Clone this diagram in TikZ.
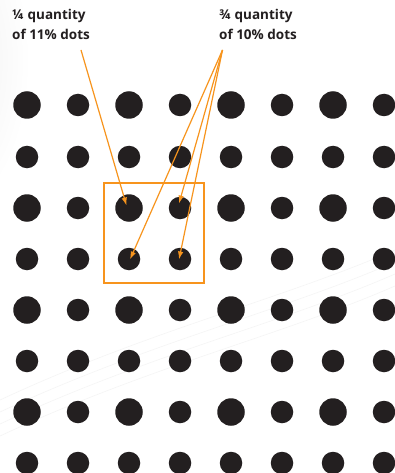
\documentclass[tikz,border=0pt]{standalone}
\usepackage{fontspec}
\setmainfont{Open Sans}
\usetikzlibrary{arrows.meta}
\definecolor{dotc}{HTML}{231F20}
\definecolor{orng}{HTML}{F7941D}
\begin{document}
\begin{tikzpicture}[x=1pt,y=-1pt,
  big/.style={circle,fill=dotc,inner sep=0pt,minimum size=27.5pt},
  small/.style={circle,fill=dotc,inner sep=0pt,minimum size=22.5pt},
  lbl/.style={font=\bfseries\fontsize{13.5}{20}\selectfont,align=left,anchor=north west,inner sep=0pt,text=dotc},
  arr/.style={draw=orng,line width=1.2pt,-{Latex[length=8pt,width=5.5pt]}}]
\useasboundingbox (0,0) rectangle (395,473);
\fill[white] (0,0) rectangle (395,473);
\shade[inner color=black!7,outer color=white] (-60,60) ellipse (90 and 160);
\foreach \y in {360,372,384,396}{
  \draw[black!4,line width=0.6pt] (0,\y+40) .. controls (150,\y-30) and (280,\y-60) .. (395,\y-110);}
% dots
\foreach \r/\y in {1/105,2/157,3/208,4/259,5/310,6/361,7/412,8/463}{
  \foreach \c/\x in {1/27,2/78,3/129,4/180,5/231,6/282,7/333,8/384}{
    \pgfmathtruncatemacro{\isbig}{(mod(\r,2)==1) && (mod(\c,2)==1)}
    \ifnum\isbig=1
      \node[big] (d\r\c) at (\x,\y) {};
    \else
      \node[small] (d\r\c) at (\x,\y) {};
    \fi
  }}
% box
\draw[orng,line width=1.7pt] (104,183) rectangle (204,283);
% labels
\node[lbl] (l1) at (12,9) {¼ quantity\\of 11\% dots};
\node[lbl] (l2) at (219,9) {¾ quantity\\of 10\% dots};
\coordinate (s1) at (81,50);
\coordinate (s2) at (222.5,50);
\coordinate (e1) at (126.5,205.5);
\coordinate (e2) at (179,203.5);
\coordinate (e3) at (130,259.5);
\coordinate (e4) at (179,259.5);
\draw[arr] (s1) -- (e1);
\draw[arr] (s2) -- (e2);
\draw[arr] (s2) -- (e3);
\draw[arr] (s2) -- (e4);
\end{tikzpicture}
\end{document}
